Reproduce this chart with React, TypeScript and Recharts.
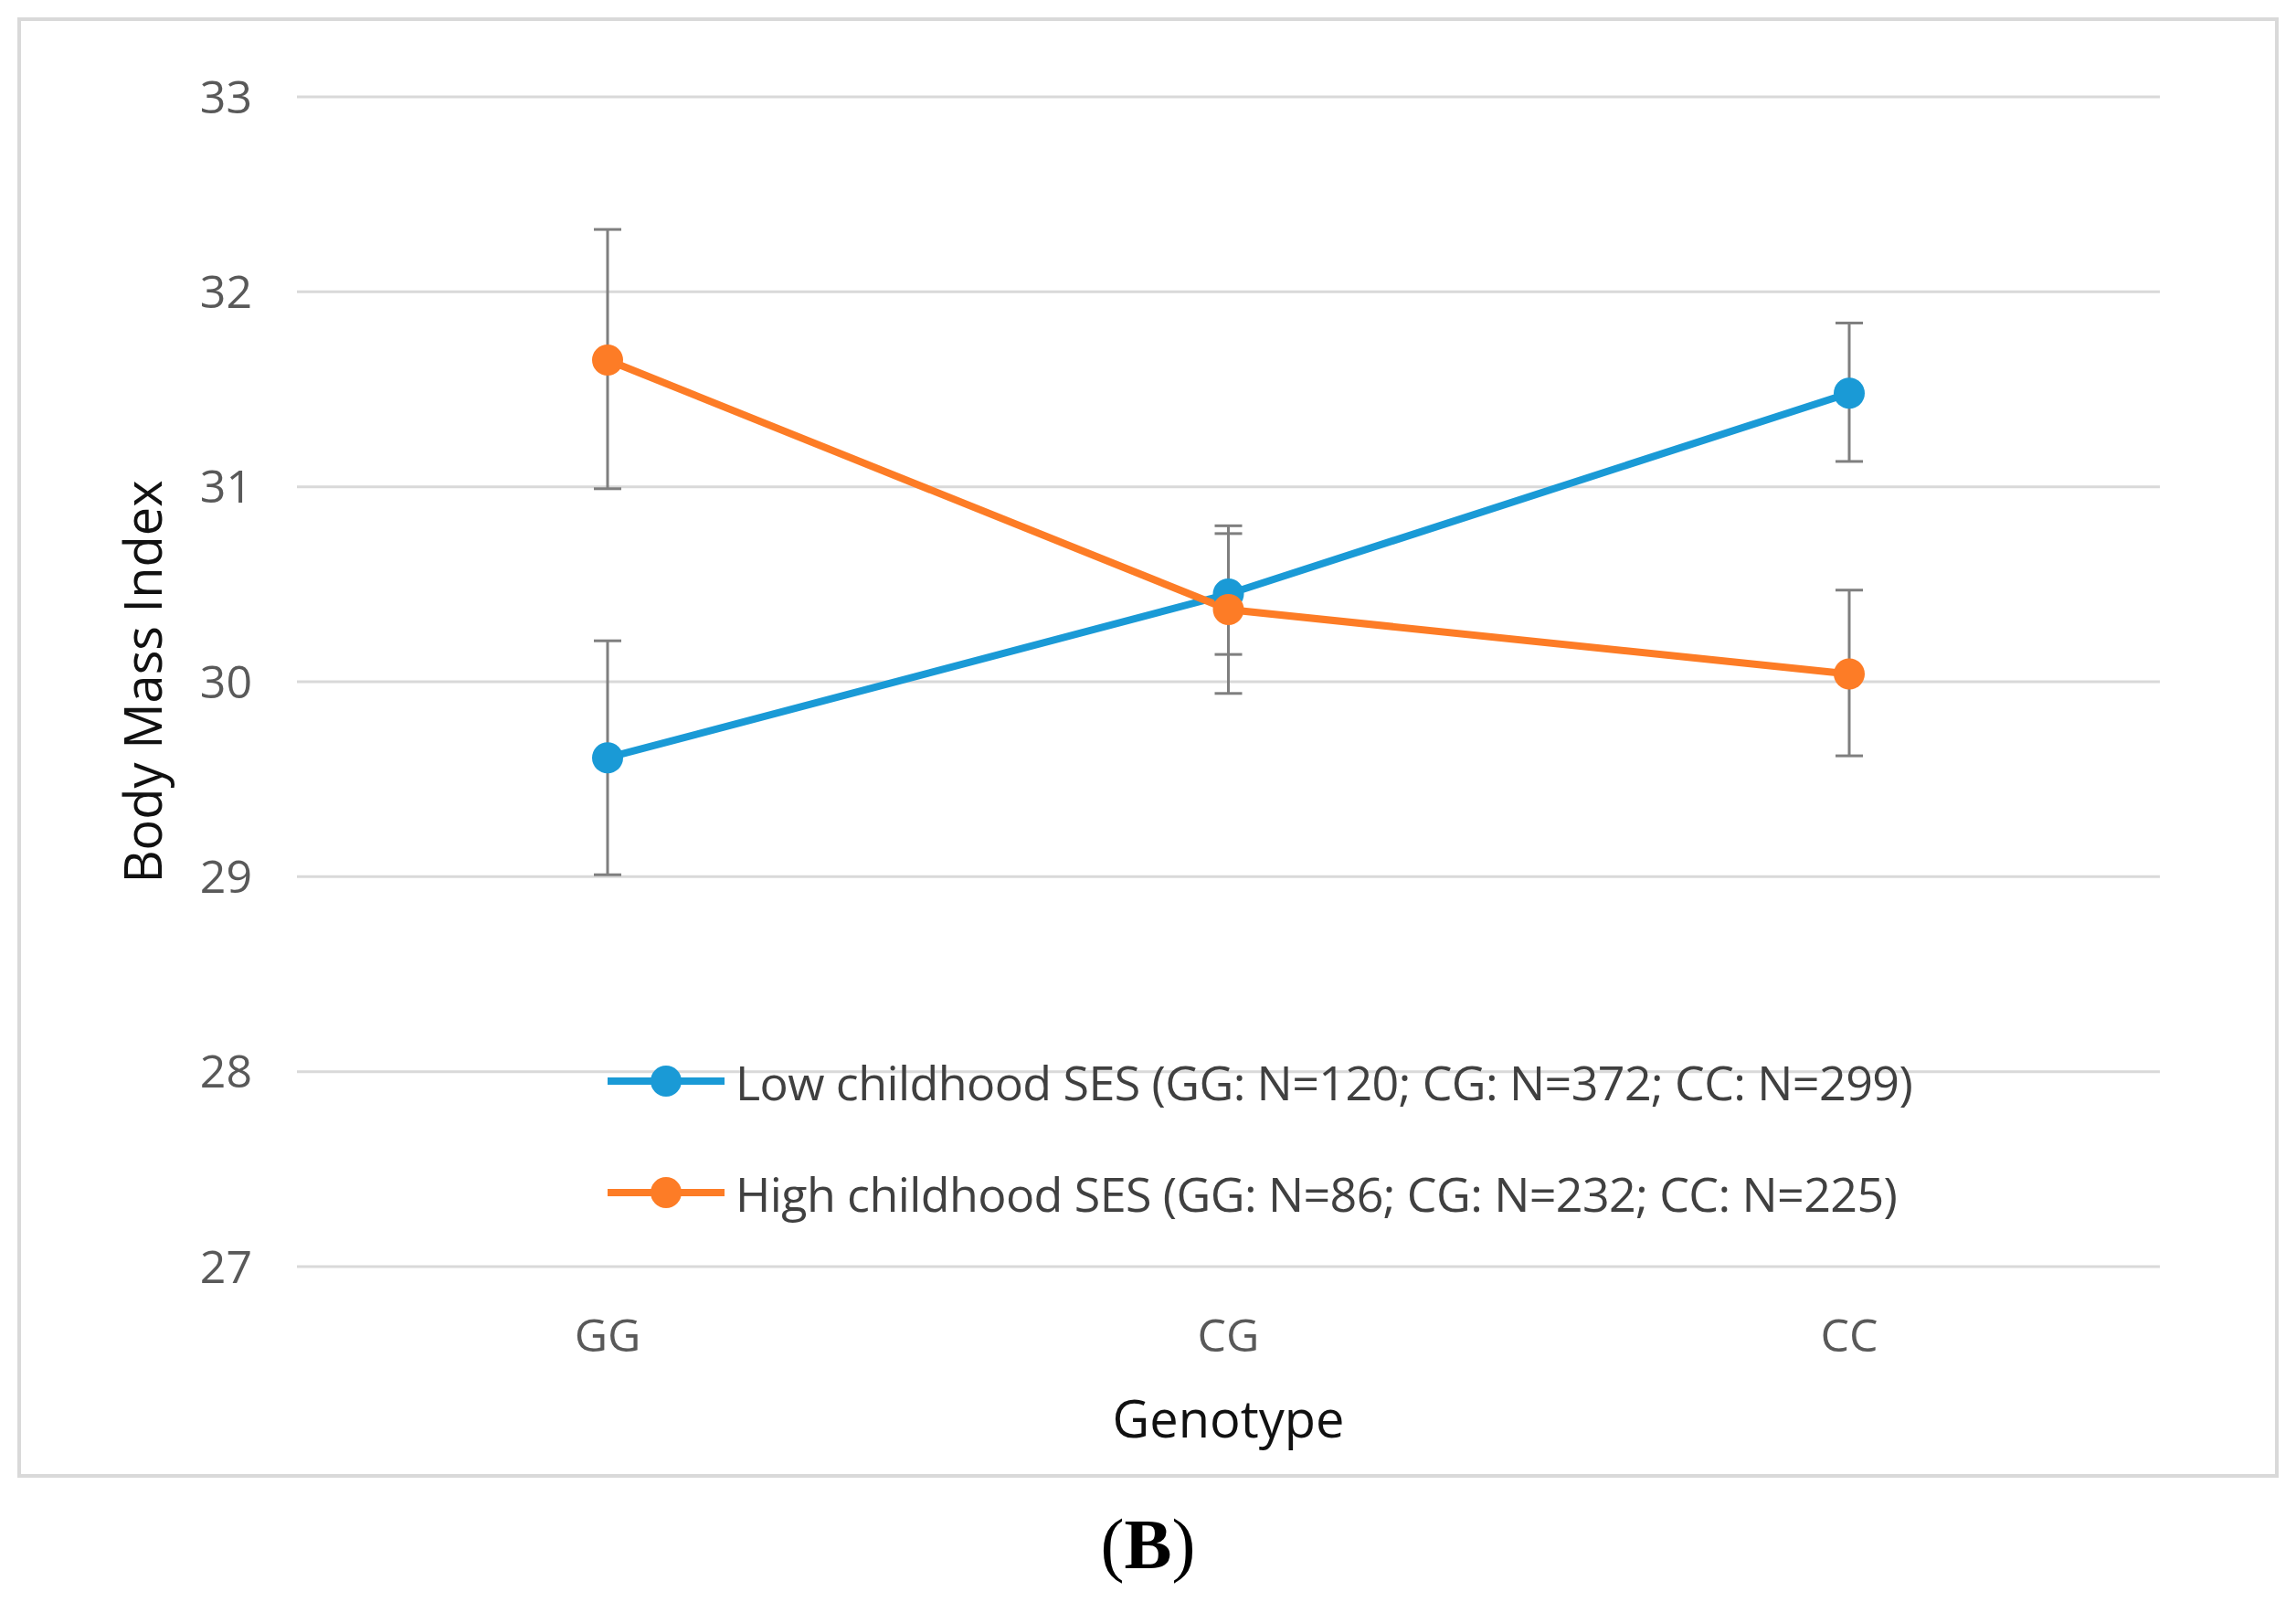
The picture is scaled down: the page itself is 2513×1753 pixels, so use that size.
import React from 'react';
import { LineChart, Line, XAxis, YAxis, CartesianGrid, ErrorBar, Legend, Label } from 'recharts';

const genotypes = ['GG', 'CG', 'CC'];
const yTicks = [27, 28, 29, 30, 31, 32, 33];

// means
const lowSes = [29.61, 30.45, 31.48];
const highSes = [31.65, 30.37, 30.04];

// error bar ends (lower, upper)
const lowSesLower = [29.01, 30.14, 31.13];
const lowSesUpper = [30.21, 30.76, 31.84];
const highSesLower = [30.99, 29.94, 29.62];
const highSesUpper = [32.32, 30.8, 30.47];

const lowName = 'Low childhood SES (GG: N=120; CG: N=372; CC: N=299)';
const highName = 'High childhood SES (GG: N=86; CG: N=232; CC: N=225)';
const seriesOrder = [lowName, highName];

const BLUE = '#1a9ad6';
const ORANGE = '#fd7c26';
const FONT = "'Open Sans', sans-serif";

const data = genotypes.map((g, i) => ({
  genotype: g,
  low: lowSes[i],
  high: highSes[i],
  lowErr: [lowSes[i] - lowSesLower[i], lowSesUpper[i] - lowSes[i]],
  highErr: [highSes[i] - highSesLower[i], highSesUpper[i] - highSes[i]],
}));

const LegendContent = (props: any) => {
  const { payload = [] } = props;
  const items = [...payload].sort((a: any, b: any) => seriesOrder.indexOf(a.value) - seriesOrder.indexOf(b.value));
  return (
    <div>
      {items.map((p: any) => (
        <div key={p.value} style={{ display: 'flex', alignItems: 'center', height: 122 }}>
          <svg width={140} height={40} style={{ flex: 'none' }}>
            <line x1={0} y1={20} x2={128} y2={20} stroke={p.color} strokeWidth={8} />
            <circle cx={64} cy={20} r={17} fill={p.color} />
          </svg>
          <span style={{ fontSize: 52, color: '#404040', fontFamily: FONT, whiteSpace: 'nowrap', letterSpacing: -0.6 }}>
            {p.value}
          </span>
        </div>
      ))}
    </div>
  );
};

const YTitle = (props: any) => {
  const { viewBox } = props;
  const cx = viewBox.x + 155;
  const cy = viewBox.y + viewBox.height / 2;
  return (
    <text
      x={cx}
      y={cy}
      transform={`rotate(-90, ${cx}, ${cy})`}
      textAnchor="middle"
      dominantBaseline="central"
      fontSize={56}
      fill="#111"
      fontFamily={FONT}
    >
      Body Mass Index
    </text>
  );
};

export default function App() {
  return (
    <div style={{ position: 'absolute', left: 0, top: 0, width: 2513, height: 1753, background: '#fff', fontFamily: FONT }}>
      <div
        style={{
          position: 'absolute',
          left: 19,
          top: 19,
          width: 2475,
          height: 1598,
          border: '4px solid #d9d9d9',
          boxSizing: 'border-box',
        }}
      />
      <div style={{ position: 'absolute', left: 0, top: 0 }}>
        <LineChart width={2513} height={1620} data={data} margin={{ top: 106, right: 149, left: 0, bottom: 34 }}>
          <CartesianGrid vertical={false} stroke="#d9d9d9" strokeWidth={3} />
          <XAxis
            dataKey="genotype"
            padding={{ left: 340, right: 340 }}
            axisLine={false}
            tickLine={false}
            tickSize={0}
            tickMargin={57}
            height={200}
            tick={{ fontSize: 50, fill: '#595959', fontFamily: FONT }}
          >
            <Label value="Genotype" position="insideBottom" offset={13} fontSize={56} fill="#111" fontFamily={FONT} />
          </XAxis>
          <YAxis
            width={325}
            domain={[27, 33]}
            ticks={yTicks}
            axisLine={false}
            tickLine={false}
            tickSize={0}
            tickMargin={49}
            tick={{ fontSize: 50, fill: '#595959', fontFamily: FONT }}
            label={<YTitle />}
          />
          <Legend
            layout="vertical"
            align="center"
            verticalAlign="middle"
            content={<LegendContent />}
            wrapperStyle={{ left: 665, top: 1122, width: 1700 }}
          />
          <Line
            name={lowName}
            dataKey="low"
            stroke={BLUE}
            strokeWidth={8}
            dot={{ r: 17, fill: BLUE, stroke: BLUE, strokeWidth: 0 }}
            activeDot={false}
            isAnimationActive={false}
          >
            <ErrorBar dataKey="lowErr" direction="y" width={15} stroke="#7f7f7f" strokeWidth={3} isAnimationActive={false} />
          </Line>
          <Line
            name={highName}
            dataKey="high"
            stroke={ORANGE}
            strokeWidth={8}
            dot={{ r: 17, fill: ORANGE, stroke: ORANGE, strokeWidth: 0 }}
            activeDot={false}
            isAnimationActive={false}
          >
            <ErrorBar dataKey="highErr" direction="y" width={15} stroke="#7f7f7f" strokeWidth={3} isAnimationActive={false} />
          </Line>
        </LineChart>
      </div>
      <div
        style={{
          position: 'absolute',
          left: 0,
          width: 2513,
          top: 1645,
          textAlign: 'center',
          fontFamily: "'Liberation Serif', serif",
          fontSize: 78,
          lineHeight: '90px',
        }}
      >
        (<b>B</b>)
      </div>
    </div>
  );
}
